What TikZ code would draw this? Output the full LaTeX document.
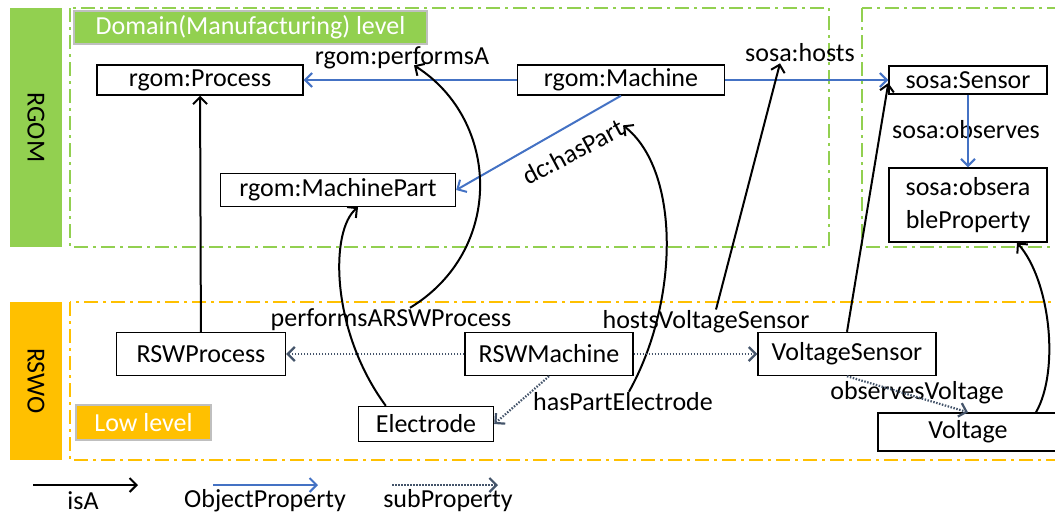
\documentclass[tikz,border=0pt]{standalone}
\usepackage{fontspec}
\setmainfont{Carlito}
\usetikzlibrary{arrows.meta}

\definecolor{gruen}{HTML}{92D050}
\definecolor{orangegelb}{HTML}{FFC000}
\definecolor{blau}{HTML}{4472C4}
\definecolor{schiefer}{HTML}{44546A}
\definecolor{rahmengrau}{HTML}{BFBFBF}

\begin{document}
\begin{tikzpicture}[x=1pt, y=-1pt, font=\fontsize{26}{33}\selectfont]
  \useasboundingbox (0,0) rectangle (1055,515);

  % Stile.
  \tikzstyle{klasse}=[rectangle, draw, line width=1.4pt, fill=white, inner sep=2pt]
  \tikzstyle{beschr}=[inner sep=1pt]
  \tikzstyle{balken}=[rectangle, inner sep=0pt, minimum height=52pt]
  \tikzstyle{ebene}=[rectangle, draw=rahmengrau, line width=1.5pt, text=white, inner sep=0pt]
  \tikzstyle{rahmen}=[line width=2pt, dash pattern=on 14pt off 5pt on 3pt off 5pt]
  \tikzstyle{isa}=[line width=2pt, -{Straight Barb[length=7pt,width=14pt]}]
  \tikzstyle{objprop}=[isa, blau]
  \tikzstyle{subprop}=[line width=2.2pt, schiefer, dash pattern=on 1.5pt off 1.5pt, -{Straight Barb[length=7pt,width=14pt]}]

  % Ebenen.
  \node[balken, fill=gruen, minimum width=239pt, rotate=-90] (rgom) at (36,127.5) {RGOM};
  \node[balken, fill=orangegelb, minimum width=158pt, rotate=-90] (rswo) at (36,381) {RSWO};

  \draw[rahmen, gruen] (70,8) rectangle (829,247);
  \draw[rahmen, gruen] (862,8) rectangle (1060,247);
  \draw[rahmen, orangegelb] (70,302) rectangle (1060,460);

  \node[ebene, fill=gruen, minimum width=353pt, minimum height=33pt] (domaene) at (250.5,27.5) {Domain(Manufacturing) level};
  \node[ebene, fill=orangegelb, minimum width=135pt, minimum height=35pt] (niedrig) at (143.5,422.5) {Low level};

  % Klassen.
  \node[klasse, minimum width=206pt, minimum height=30pt] (prozess) at (200,80) {rgom:Process};
  \node[klasse, minimum width=207pt, minimum height=30pt] (maschine) at (621,80) {rgom:Machine};
  \node[klasse, minimum width=158pt, minimum height=28pt] (sensor) at (968,80) {sosa:Sensor};
  \node[klasse, minimum width=235pt, minimum height=33pt] (maschinenteil) at (338,190) {rgom:MachinePart};
  \node[klasse, minimum width=158pt, minimum height=74pt, align=center] (eigenschaft) at (968,205) {sosa:obsera\\bleProperty};
  \node[klasse, minimum width=169pt, minimum height=43pt] (rswprozess) at (201,354) {RSWProcess};
  \node[klasse, minimum width=168pt, minimum height=43pt] (rswmaschine) at (549,354) {RSWMachine};
  \node[klasse, minimum width=178pt, minimum height=43pt] (spannungssensor) at (847,354) {VoltageSensor};
  \node[klasse, minimum width=135pt, minimum height=35pt] (elektrode) at (426,424) {Electrode};
  \node[klasse, minimum width=180pt, minimum height=38pt] (spannung) at (968,432) {Voltage};

  % Beschriftungen.
  \node[beschr] (lperformsA) at (402,58) {rgom:performsA};
  \node[beschr] (lhosts) at (800,53) {sosa:hosts};
  \node[beschr, rotate=28] (lhasPart) at (573,152) {dc:hasPart};
  \node[beschr] (lobserves) at (966,130) {sosa:observes};
  \node[beschr] (lperformsARSW) at (391,320) {performsARSWProcess};
  \node[beschr] (lhostsVS) at (706,322) {hostsVoltageSensor};
  \node[beschr] (lhasPartE) at (623,402) {hasPartElectrode};
  \node[beschr] (lobservesV) at (917,393) {observesVoltage};

  % Objekteigenschaften.
  \draw[objprop] (maschine) -- (prozess);
  \draw[objprop] (maschine) -- (sensor);
  \draw[objprop] (maschine.south) -- (maschinenteil.east);
  \draw[objprop] (sensor) -- (eigenschaft);

  % Unterklassen.
  \draw[isa] (rswprozess) -- (prozess);
  \draw[isa] ([xshift=28pt]elektrode.north west) .. controls (330,330) and (330,230) .. ([xshift=20pt]maschinenteil.south);
  \draw[isa] (spannungssensor.north) -- ([yshift=-3pt]sensor.west);
  \draw[isa] ([xshift=68pt]spannung.north) .. controls (1060,370) and (1050,280) .. ([xshift=49pt]eigenschaft.south);

  % Untereigenschaften.
  \draw[isa] ([xshift=19pt]lperformsARSW.north) .. controls (505,250) and (500,120) .. ([xshift=12pt,yshift=5pt]lperformsA.south);
  \draw[isa] ([xshift=6pt]lhasPartE.north) .. controls (680,300) and (680,170) .. (lhasPart.east);
  \draw[isa] ([xshift=10pt]lhostsVS.north) -- ([xshift=-20pt]lhosts.south);

  \draw[subprop] (rswmaschine) -- (rswprozess);
  \draw[subprop] (rswmaschine) -- (spannungssensor);
  \draw[subprop] (rswmaschine.south) -- (elektrode.east);
  \draw[subprop] (spannungssensor.south) -- (spannung.north);

  % Legende.
  \coordinate (isaA) at (33,485);
  \coordinate (isaB) at (138,485);
  \coordinate (objA) at (213,485);
  \coordinate (objB) at (318,485);
  \coordinate (subA) at (392,485);
  \coordinate (subB) at (498,485);
  \draw[isa] (isaA) -- (isaB);
  \draw[objprop] (objA) -- (objB);
  \draw[subprop] (subA) -- (subB);
  \node[beschr] (lisa) at (83,501) {isA};
  \node[beschr] (lobj) at (265,501) {ObjectProperty};
  \node[beschr] (lsub) at (448,501) {subProperty};
\end{tikzpicture}
\end{document}
